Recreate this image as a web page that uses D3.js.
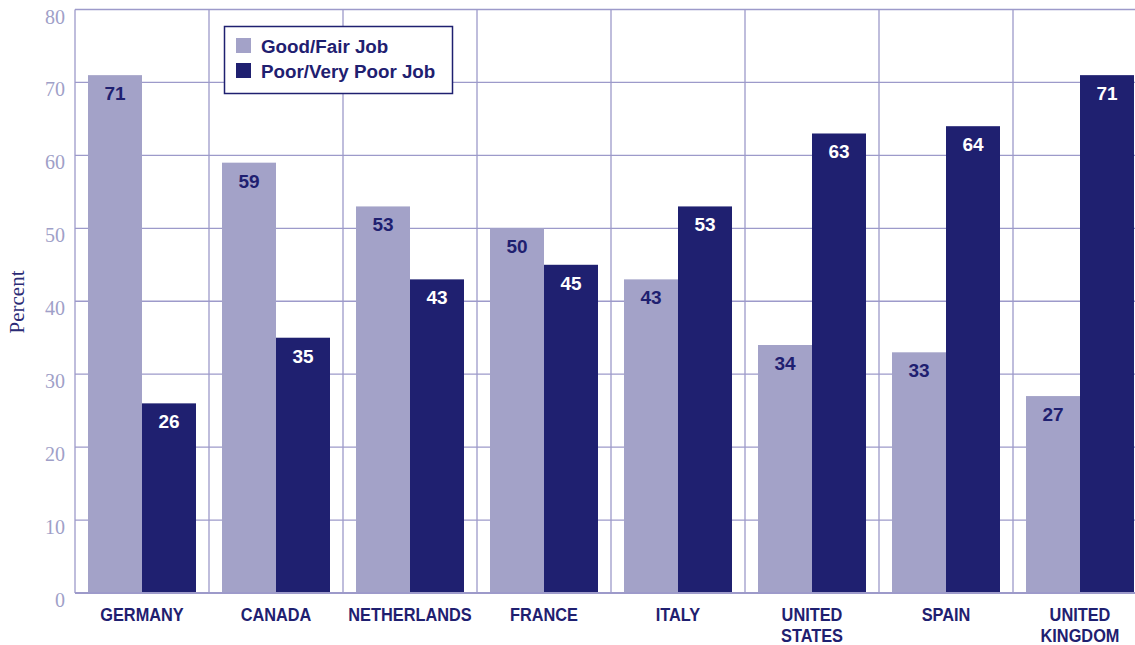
<!DOCTYPE html>
<html>
<head>
<meta charset="utf-8">
<script src="https://cdn.jsdelivr.net/npm/d3@7"></script>
<style>
  html, body { margin: 0; padding: 0; background: #fff; }
  svg { display: block; }
</style>
</head>
<body>
<svg id="chart" width="1135" height="645"></svg>
<script>
// Ratings of the health care system, by country
const countries = ["GERMANY", "CANADA", "NETHERLANDS", "FRANCE", "ITALY", "UNITED STATES", "SPAIN", "UNITED KINGDOM"];
const countryLines = [["GERMANY"], ["CANADA"], ["NETHERLANDS"], ["FRANCE"], ["ITALY"], ["UNITED", "STATES"], ["SPAIN"], ["UNITED", "KINGDOM"]];
const goodFair = [71, 59, 53, 50, 43, 34, 33, 27];
const poorVeryPoor = [26, 35, 43, 45, 53, 63, 64, 71];
const seriesNames = ["Good/Fair Job", "Poor/Very Poor Job"];
const yTicks = [0, 10, 20, 30, 40, 50, 60, 70, 80];

const LIGHT = "#a3a2c8";
const DARK = "#1f2070";
const GRID = "#9d9aca";
const TICK = "#a09fc8";

const svg = d3.select("#chart");
const plotLeft = 75, plotTop = 9.5, plotBottom = 593;
const bandW = 134;

const x = d3.scaleBand().domain(countries).range([plotLeft, plotLeft + bandW * countries.length]).padding(0);
// two bars per country with a 13px margin on either side
const xsub = d3.scaleBand().domain([0, 1]).range([13, bandW - 13]).padding(0);
const y = d3.scaleLinear().domain([0, 80]).range([plotBottom, plotTop]);

// horizontal gridlines
svg.append("g").selectAll("line").data(yTicks.filter(d => d > 0)).join("line")
  .attr("x1", plotLeft).attr("x2", 1135)
  .attr("y1", d => y(d)).attr("y2", d => y(d))
  .attr("stroke", GRID).attr("stroke-width", 1.3);

// vertical gridlines at category boundaries
svg.append("g").selectAll("line").data(countries).join("line")
  .attr("x1", d => x(d)).attr("x2", d => x(d))
  .attr("y1", plotTop).attr("y2", plotBottom)
  .attr("stroke", GRID).attr("stroke-width", 1.3);

// y tick labels
svg.append("g").selectAll("text").data(yTicks).join("text")
  .attr("x", 65).attr("y", d => y(d) + 14)
  .attr("text-anchor", "end")
  .attr("font-family", "'Liberation Serif', 'DejaVu Serif', serif")
  .attr("font-size", 20)
  .attr("fill", TICK)
  .text(d => d);

// y axis title
svg.append("text")
  .attr("transform", "translate(24,302) rotate(-90)")
  .attr("text-anchor", "middle")
  .attr("font-family", "'Liberation Serif', 'DejaVu Serif', serif")
  .attr("font-size", 21)
  .attr("fill", "#2b2b75")
  .text("Percent");

// bars
const series = [goodFair, poorVeryPoor];
const colors = [LIGHT, DARK];
const labelColors = [DARK, "#ffffff"];
series.forEach((vals, si) => {
  const g = svg.append("g");
  g.selectAll("rect").data(vals).join("rect")
    .attr("x", (d, i) => x(countries[i]) + xsub(si))
    .attr("y", d => y(d))
    .attr("width", xsub.bandwidth())
    .attr("height", d => y(0) - y(d))
    .attr("fill", colors[si]);
  g.selectAll("text").data(vals).join("text")
    .attr("x", (d, i) => x(countries[i]) + xsub(si) + xsub.bandwidth() / 2)
    .attr("y", d => y(d) + 25)
    .attr("text-anchor", "middle")
    .attr("font-family", "'Liberation Sans', Arial, sans-serif")
    .attr("font-weight", "bold")
    .attr("font-size", 19)
    .attr("fill", labelColors[si])
    .text(d => d);
});

// baseline
svg.append("line")
  .attr("x1", plotLeft).attr("x2", 1135)
  .attr("y1", y(0)).attr("y2", y(0))
  .attr("stroke", GRID).attr("stroke-width", 2);

// category labels, set in a condensed bold face
const cat = svg.append("g").selectAll("text").data(countries).join("text")
  .attr("transform", d => `translate(${x(d) + bandW / 2},621) scale(0.86,1)`)
  .attr("text-anchor", "middle")
  .attr("font-family", "'Liberation Sans', Arial, sans-serif")
  .attr("font-weight", "bold")
  .attr("font-size", 19)
  .attr("fill", DARK);
cat.each(function(d, i) {
  d3.select(this).selectAll("tspan").data(countryLines[i]).join("tspan")
    .attr("x", 0)
    .attr("dy", (t, j) => j === 0 ? 0 : 21)
    .text(t => t);
});

// legend
const leg = svg.append("g");
leg.append("rect")
  .attr("x", 224.5).attr("y", 26.5).attr("width", 228).attr("height", 67)
  .attr("fill", "#fff").attr("stroke", DARK).attr("stroke-width", 1.5);
seriesNames.forEach((name, i) => {
  leg.append("rect")
    .attr("x", 236).attr("y", 38 + i * 25).attr("width", 15).attr("height", 15)
    .attr("fill", colors[i]);
  leg.append("text")
    .attr("x", 261).attr("y", 53 + i * 25)
    .attr("font-family", "'Liberation Sans', Arial, sans-serif")
    .attr("font-weight", "bold")
    .attr("font-size", 18.8)
    .attr("fill", DARK)
    .text(name);
});
</script>
</body>
</html>
